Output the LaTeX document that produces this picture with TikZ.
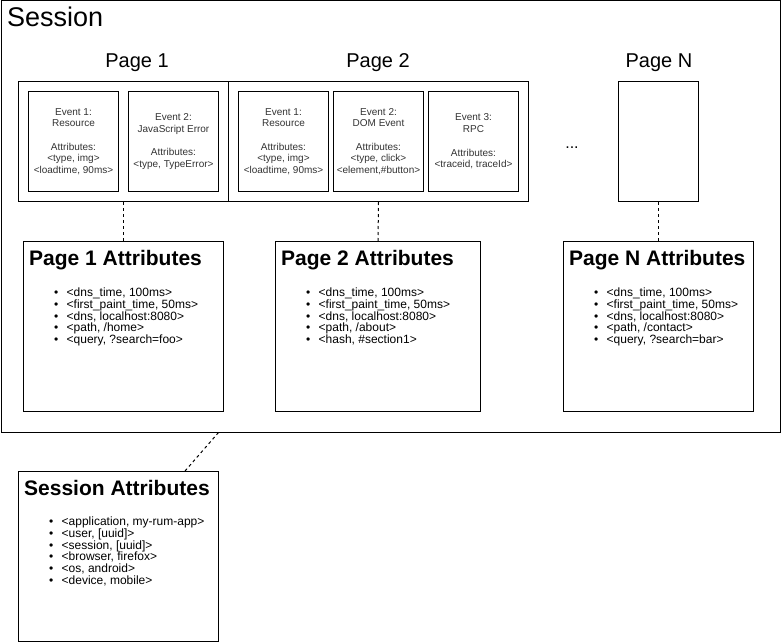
\documentclass[tikz,border=0pt]{standalone}
\usepackage{fontspec}
\setmainfont{Liberation Sans}
\usetikzlibrary{calc}

\definecolor{evtext}{rgb}{0.2,0.2,0.2}

\begin{document}
\begin{tikzpicture}[x=1pt, y=-1pt,
    box/.style={draw, line width=1pt, inner sep=0pt, anchor=north west},
    event/.style={box, minimum width=90pt, minimum height=100pt, align=center,
        text=evtext, font=\fontsize{10}{11.7}\selectfont},
    attrbox/.style={box, minimum height=170pt},
    attrtitle/.style={anchor=base west, inner sep=0pt, font=\fontsize{21}{21}\selectfont\bfseries},
    attrlist/.style={anchor=north west, inner sep=0pt, align=left, font=\fontsize{12}{11.9}\selectfont},
    pagetitle/.style={anchor=base, inner sep=0pt, font=\fontsize{20}{20}\selectfont},
    link/.style={line width=1pt, dash pattern=on 3pt off 3pt}]
    \useasboundingbox (0,0) rectangle (781,642);

    % session frame
    \node[box, minimum width=779.5pt, minimum height=431pt] (session) at (0.5,0.5) {};
    \node[anchor=base west, inner sep=0pt, font=\fontsize{27}{27}\selectfont] (sesstitle) at (7,27) {Session};

    % pages
    \node[pagetitle] (p1name) at (137,67) {Page 1};
    \node[pagetitle] (p2name) at (378,67) {Page 2};
    \node[pagetitle] (pNname) at (659,67) {Page N};

    \node[box, minimum width=210pt, minimum height=120pt] (page1) at (18,81) {};
    \node[box, minimum width=300pt, minimum height=120pt] (page2) at (228,81) {};
    \node[box, minimum width=80pt, minimum height=120pt] (pageN) at (618,81) {};
    \node[anchor=base, inner sep=0pt, font=\fontsize{16}{16}\selectfont] (more) at (572,148) {...};

    % events
    \node[event] (p1ev1) at (28,91) {Event 1:\\Resource\\[11.7pt]Attributes:\\<type, img>\\<loadtime, 90ms>};
    \node[event] (p1ev2) at (128,91) {Event 2:\\JavaScript Error\\[11.7pt]Attributes:\\<type, TypeError>};
    \node[event] (p2ev1) at (238,91) {Event 1:\\Resource\\[11.7pt]Attributes:\\<type, img>\\<loadtime, 90ms>};
    \node[event] (p2ev2) at (333,91) {Event 2:\\DOM Event\\[11.7pt]Attributes:\\<type, click>\\<element,\#button>};
    \node[event] (p2ev3) at (428,91) {Event 3:\\RPC\\[11.7pt]Attributes:\\<traceid, traceId>};

    % page attributes
    \node[attrbox, minimum width=200pt] (p1attr) at (23,241) {};
    \node[attrtitle] (p1head) at ($(p1attr.north west)+(6,24)$) {Page 1 Attributes};
    \node[attrlist] (p1list) at ($(p1attr.north west)+(31,46)$) {\rule{0pt}{9pt}\makebox[12.5pt][l]{\textbullet}<dns\_time, 100ms>\\
        \makebox[12.5pt][l]{\textbullet}<first\_paint\_time, 50ms>\\
        \makebox[12.5pt][l]{\textbullet}<dns, localhost:8080>\\
        \makebox[12.5pt][l]{\textbullet}<path, /home>\\
        \makebox[12.5pt][l]{\textbullet}<query, ?search=foo>};

    \node[attrbox, minimum width=205pt] (p2attr) at (275,241) {};
    \node[attrtitle] (p2head) at ($(p2attr.north west)+(6,24)$) {Page 2 Attributes};
    \node[attrlist] (p2list) at ($(p2attr.north west)+(31,46)$) {\rule{0pt}{9pt}\makebox[12.5pt][l]{\textbullet}<dns\_time, 100ms>\\
        \makebox[12.5pt][l]{\textbullet}<first\_paint\_time, 50ms>\\
        \makebox[12.5pt][l]{\textbullet}<dns, localhost:8080>\\
        \makebox[12.5pt][l]{\textbullet}<path, /about>\\
        \makebox[12.5pt][l]{\textbullet}<hash, \#section1>};

    \node[attrbox, minimum width=190pt] (pNattr) at (563,241) {};
    \node[attrtitle] (pNhead) at ($(pNattr.north west)+(6,24)$) {Page N Attributes};
    \node[attrlist] (pNlist) at ($(pNattr.north west)+(31,46)$) {\rule{0pt}{9pt}\makebox[12.5pt][l]{\textbullet}<dns\_time, 100ms>\\
        \makebox[12.5pt][l]{\textbullet}<first\_paint\_time, 50ms>\\
        \makebox[12.5pt][l]{\textbullet}<dns, localhost:8080>\\
        \makebox[12.5pt][l]{\textbullet}<path, /contact>\\
        \makebox[12.5pt][l]{\textbullet}<query, ?search=bar>};

    % session attributes
    \node[attrbox, minimum width=200pt] (sattr) at (18,471) {};
    \node[attrtitle] (shead) at ($(sattr.north west)+(6,24)$) {Session Attributes};
    \node[attrlist] (slist) at ($(sattr.north west)+(31,45)$) {\rule{0pt}{9pt}\makebox[12.5pt][l]{\textbullet}<application, my-rum-app>\\
        \makebox[12.5pt][l]{\textbullet}<user, [uuid]>\\
        \makebox[12.5pt][l]{\textbullet}<session, [uuid]>\\
        \makebox[12.5pt][l]{\textbullet}<browser, firefox>\\
        \makebox[12.5pt][l]{\textbullet}<os, android>\\
        \makebox[12.5pt][l]{\textbullet}<device, mobile>};

    % links
    \draw[link] (page1.south) -- (p1attr.north);
    \draw[link] (page2.south) -- (p2attr.north);
    \draw[link] (pageN.south) -- (pNattr.north);
    \coordinate (sessfoot) at ($(session.south west)+(218,0)$);
    \coordinate (sattrtop) at ($(sattr.north west)+(167,0)$);
    \draw[link] (sessfoot) -- (sattrtop);
\end{tikzpicture}
\end{document}
